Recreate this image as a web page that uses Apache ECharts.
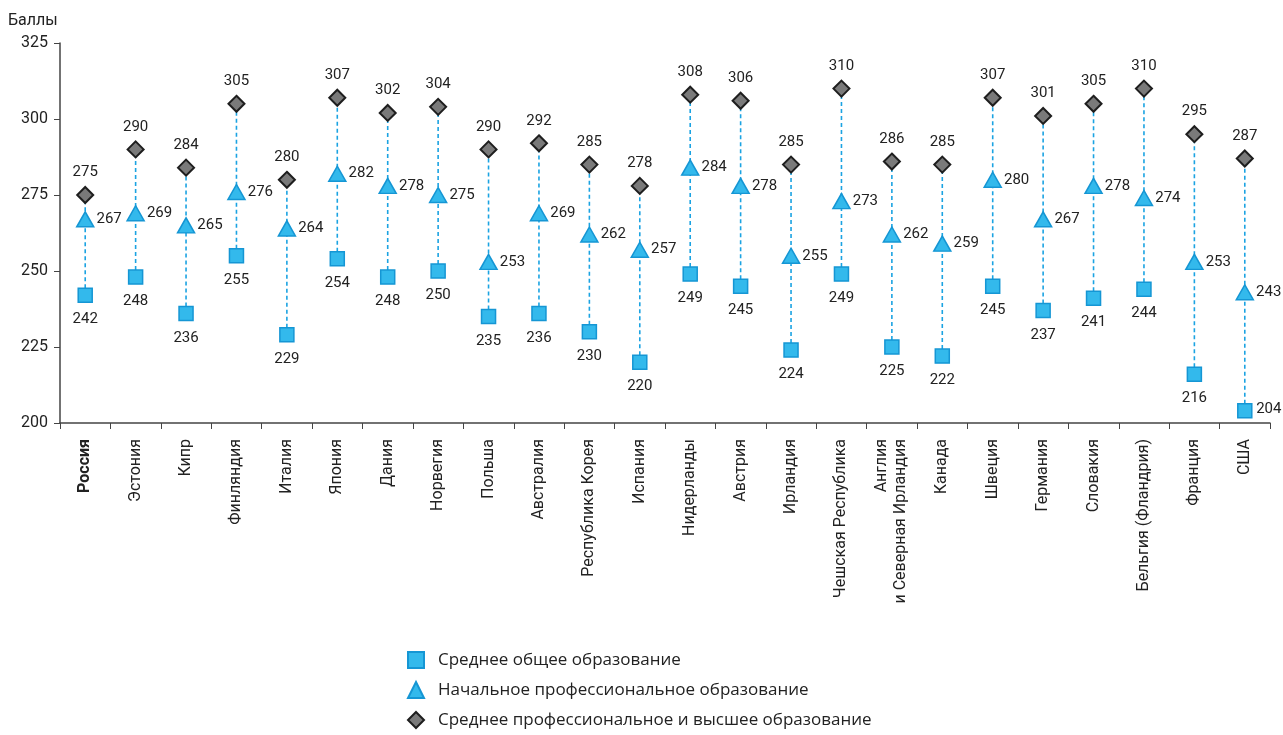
<!DOCTYPE html>
<html>
<head>
<meta charset="utf-8">
<script src="https://cdn.jsdelivr.net/npm/echarts@6/dist/echarts.min.js"></script>
<style>
    html, body {margin: 0; padding: 0; background: #fff;}
    #chart {width: 1283px; height: 735px;}
</style>
</head>
<body>
<div id="chart"></div>
<script>
var countries = ['Россия', 'Эстония', 'Кипр', 'Финляндия', 'Италия', 'Япония', 'Дания', 'Норвегия', 'Польша',
    'Австралия', 'Республика Корея', 'Испания', 'Нидерланды', 'Австрия', 'Ирландия', 'Чешская Республика',
    'Англия\nи Северная Ирландия', 'Канада', 'Швеция', 'Германия', 'Словакия', 'Бельгия (Фландрия)', 'Франция', 'США'];
var secondary = [242, 248, 236, 255, 229, 254, 248, 250, 235, 236, 230, 220, 249, 245, 224, 249, 225, 222, 245, 237, 241, 244, 216, 204];
var vocational = [267, 269, 265, 276, 264, 282, 278, 275, 253, 269, 262, 257, 284, 278, 255, 273, 262, 259, 280, 267, 278, 274, 253, 243];
var higher = [275, 290, 284, 305, 280, 307, 302, 304, 290, 292, 285, 278, 308, 306, 285, 310, 286, 285, 307, 301, 305, 310, 295, 287];
var seriesNames = ['Среднее общее образование', 'Начальное профессиональное образование', 'Среднее профессиональное и высшее образование'];

var font = "'Roboto', sans-serif";
var blue = '#33b9ec';
var blueBorder = '#1596d4';

// отрезки от минимума до максимума
var rangeData = countries.map(function (c, i) {
    return [i, secondary[i], higher[i]];
});

var chart = echarts.init(document.getElementById('chart'));

var labelStyle = {show: true, color: '#222', fontSize: 15, fontFamily: font};

var option = {
    animation: false,
    grid: {left: 60, right: 13, top: 43, bottom: 312},
    legend: {
        orient: 'vertical',
        left: 407,
        top: 651,
        height: 120,
        padding: 0,
        itemGap: 12,
        itemWidth: 16,
        itemHeight: 16,
        textStyle: {fontSize: 17, color: '#222', fontFamily: "'Open Sans', 'Noto Sans', sans-serif", padding: [0, 0, 0, 9]},
        data: [
            {name: seriesNames[0], icon: 'rect'},
            {name: seriesNames[1], icon: 'triangle'},
            {name: seriesNames[2], icon: 'diamond'}
        ]
    },
    xAxis: {
        type: 'category',
        data: countries,
        boundaryGap: true,
        axisLine: {lineStyle: {color: '#444', width: 1.5}},
        axisTick: {show: true, length: 6, lineStyle: {color: '#444'}},
        axisLabel: {
            rotate: 90,
            interval: 0,
            fontSize: 16,
            color: '#222',
            fontFamily: font,
            margin: 16,
            lineHeight: 19,
            formatter: function (v) {
                return v === 'Россия' ? '{b|' + v + '}' : v;
            },
            rich: {b: {fontWeight: 'bold', fontSize: 16, fontFamily: font, color: '#222'}}
        }
    },
    yAxis: {
        type: 'value',
        min: 200,
        max: 325,
        interval: 25,
        name: 'Баллы',
        nameLocation: 'end',
        nameGap: 14,
        nameTextStyle: {fontSize: 16, color: '#222', fontFamily: font, align: 'left', padding: [0, 0, 0, -52]},
        axisLine: {show: true, lineStyle: {color: '#444', width: 1.5}},
        axisTick: {show: true, length: 6, lineStyle: {color: '#444'}},
        splitLine: {show: false},
        axisLabel: {fontSize: 16, color: '#222', fontFamily: font, margin: 12}
    },
    series: [
        {
            type: 'custom',
            silent: true,
            z: 1,
            renderItem: function (params, api) {
                var p1 = api.coord([api.value(0), api.value(1)]);
                var p2 = api.coord([api.value(0), api.value(2)]);
                return {
                    type: 'line',
                    shape: {x1: p1[0], y1: p1[1], x2: p2[0], y2: p2[1]},
                    style: {stroke: '#1ba3e2', lineWidth: 1.6, lineDash: [4, 3]}
                };
            },
            encode: {x: 0, y: [1, 2]},
            data: rangeData
        },
        {
            name: seriesNames[0],
            type: 'scatter',
            symbol: 'rect',
            symbolSize: 14,
            z: 3,
            itemStyle: {color: blue, borderColor: blueBorder, borderWidth: 1.5, opacity: 1},
            label: Object.assign({}, labelStyle, {
                position: 'bottom',
                distance: 9,
                formatter: function (p) { return p.value; }
            }),
            labelLayout: function (p) {
                return p.dataIndex === countries.length - 1 ? {dx: 24, dy: -26} : {};
            },
            data: secondary
        },
        {
            name: seriesNames[1],
            type: 'scatter',
            symbol: 'triangle',
            symbolSize: [17, 15],
            z: 3,
            itemStyle: {color: blue, borderColor: blueBorder, borderWidth: 1.5, opacity: 1},
            label: Object.assign({}, labelStyle, {position: 'right', distance: 2}),
            data: vocational
        },
        {
            name: seriesNames[2],
            type: 'scatter',
            symbol: 'diamond',
            symbolSize: 16,
            z: 3,
            itemStyle: {color: '#7a7a7a', borderColor: '#1e1e1e', borderWidth: 2, opacity: 1},
            label: Object.assign({}, labelStyle, {position: 'top', distance: 6}),
            data: higher
        }
    ]
};

chart.setOption(option);
</script>
</body>
</html>
